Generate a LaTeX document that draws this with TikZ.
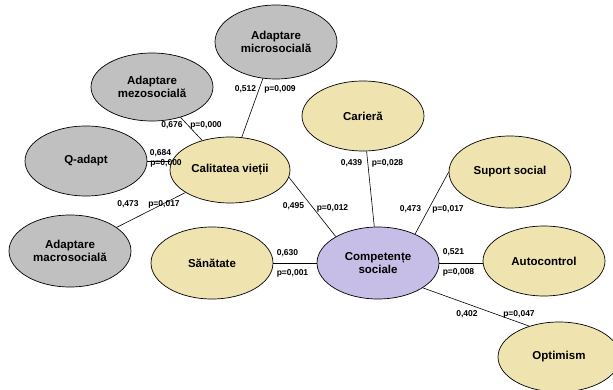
\documentclass[tikz,border=0pt]{standalone}
\usepackage{fontspec}
\setmainfont{Liberation Sans}
\usetikzlibrary{shapes.geometric}
\definecolor{grayfill}{HTML}{C0C0C0}
\definecolor{yelfill}{HTML}{EFE3B0}
\definecolor{purfill}{HTML}{C6BEE6}
\tikzset{
  x=1pt,y=-1pt,
  oval/.style={ellipse,draw=black,line width=0.7pt,inner sep=0pt,align=center,
    font=\fontsize{11.5}{13.5}\selectfont\bfseries},
  grayov/.style={oval,fill=grayfill},
  yelov/.style={oval,fill=yelfill},
  purov/.style={oval,fill=purfill},
  conn/.style={draw=black,line width=0.6pt},
  lbl/.style={inner sep=0pt,font=\fontsize{8.5}{10}\selectfont\bfseries}
}
\begin{document}
\begin{tikzpicture}
\clip (0,0) rectangle (613,390);
\fill[white] (0,0) rectangle (613,390);
% nodes
\node[grayov,minimum width=122,minimum height=74] (micro) at (276,42) {Adaptare\\microsocială};
\node[grayov,minimum width=122,minimum height=68] (mezo) at (152,87) {Adaptare\\mezosocială};
\node[grayov,minimum width=122,minimum height=70] (q) at (86,161) {Q-adapt};
\node[yelov,minimum width=120,minimum height=66] (cal) at (230,170) {Calitatea vieții};
\node[grayov,minimum width=122,minimum height=72] (macro) at (70,251) {Adaptare\\macrosocială};
\node[yelov,minimum width=122,minimum height=72] (san) at (212,263) {Sănătate};
\node[yelov,minimum width=122,minimum height=70] (car) at (363,116) {Carieră};
\node[yelov,minimum width=122,minimum height=72] (sup) at (510,172) {Suport social};
\node[purov,minimum width=122,minimum height=72] (comp) at (378,263) {Competențe\\sociale};
\node[yelov,minimum width=122,minimum height=70] (auto) at (544,261) {Autocontrol};
\node[yelov,minimum width=122,minimum height=70] (opt) at (559,357) {Optimism};
% connectors
\draw[conn] (micro) -- (cal);
\draw[conn] (mezo) -- (cal);
\draw[conn] (q.east) -- (q.east -| cal.west);
\draw[conn] (macro) -- (cal);
\draw[conn] (cal.-7) -- (comp.148);
\draw[conn] (car) -- (comp);
\draw[conn] (sup.west) -- (comp.38);
\draw[conn] (san.east) -- (comp.west);
\draw[conn] (comp.east) -- (comp.east -| auto.west);
\draw[conn] (comp.-29) -- (opt.134);
% labels
\node[lbl] (l1a) at (245.5,89) {0,512};
\node[lbl] (l1b) at (280,89) {p=0,009};
\node[lbl] (l2a) at (172,125) {0,676};
\node[lbl] (l2b) at (206,125) {p=0,000};
\node[lbl] (l3a) at (160.5,153) {0,684};
\node[lbl] (l3b) at (166,163) {p=0,000};
\node[lbl] (l4a) at (128,204) {0,473};
\node[lbl] (l4b) at (164,204) {p=0,017};
\node[lbl] (l5a) at (293.5,206) {0,495};
\node[lbl] (l5b) at (332.5,208) {p=0,012};
\node[lbl] (l6a) at (351.5,163) {0,439};
\node[lbl] (l6b) at (387.5,163) {p=0,028};
\node[lbl] (l7a) at (410.5,209) {0,473};
\node[lbl] (l7b) at (448,209) {p=0,017};
\node[lbl] (l8a) at (287.5,253) {0,630};
\node[lbl] (l8b) at (292.5,273) {p=0,001};
\node[lbl] (l9a) at (453.5,252) {0,521};
\node[lbl] (l9b) at (458.5,272) {p=0,008};
\node[lbl] (l10a) at (467,314) {0,402};
\node[lbl] (l10b) at (519,314) {p=0,047};
\end{tikzpicture}
\end{document}
